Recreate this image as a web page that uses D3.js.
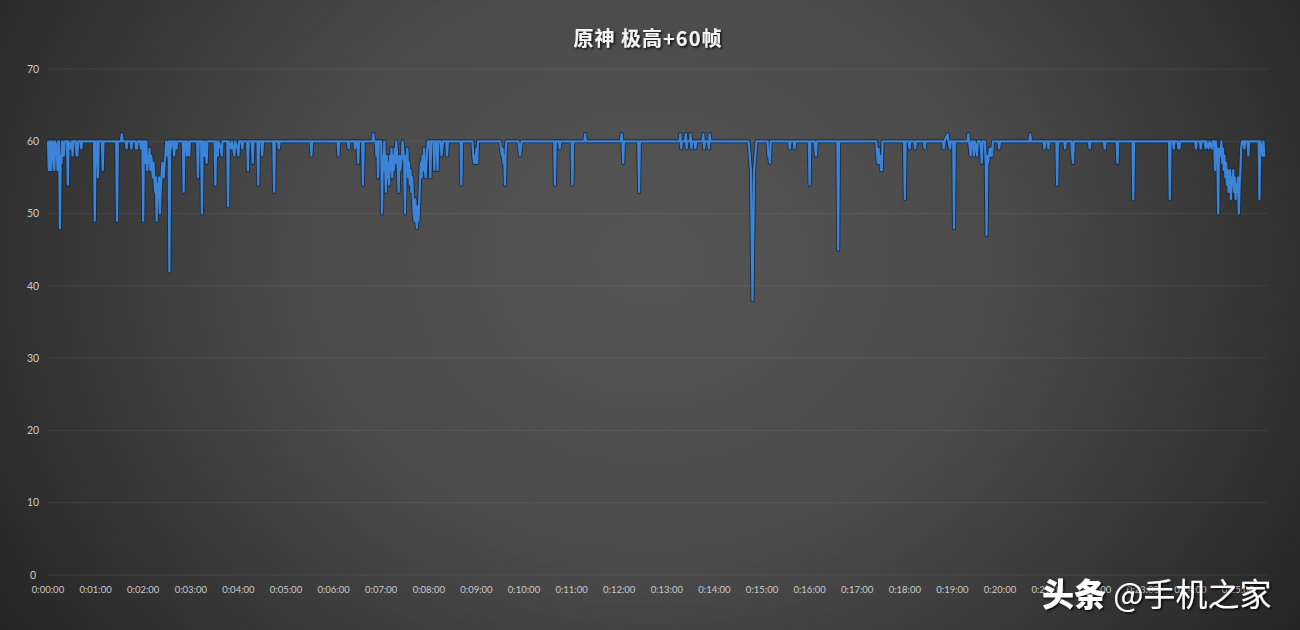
<!DOCTYPE html>
<html><head><meta charset="utf-8">
<script src="https://cdn.jsdelivr.net/npm/d3@7/dist/d3.min.js"></script>
<style>
html,body{margin:0;padding:0;background:#2a2a2a;}
svg{display:block;}
</style></head>
<body>
<svg id="chart" width="1300" height="630"></svg>
<script>
// ---- data (time in seconds, frame rate) ----
const title = "原神 极高+60帧";
const watermarkBold = "头条";
const watermarkRest = " @手机之家";
const yTicks = [0,10,20,30,40,50,60,70];
const xTickLabels = ["0:00:00","0:01:00","0:02:00","0:03:00","0:04:00","0:05:00","0:06:00","0:07:00","0:08:00","0:09:00","0:10:00","0:11:00","0:12:00","0:13:00","0:14:00","0:15:00","0:16:00","0:17:00","0:18:00","0:19:00","0:20:00","0:21:00","0:22:00","0:23:00","0:24:00","0:25:00"];
const xTickSec = [0,60,120,180,240,300,360,420,480,540,600,660,720,780,840,900,960,1020,1080,1140,1200,1260,1320,1380,1440,1500];
const totalSec = 1534;

const timeSec = [
0,1,2,3,4,5,6,8,9,11,12,13,14,15,16,17,18,20,21,24,25,26,28,30,31,32,35,36,37,38,41,42,43,
58,59,60,62,63,64,68,69,70,86,87,88,92,93,94,
98,99,100,104,105,106,110,111,112,113,116,117,118,119,120,121,
122,123,124,125,126,127,128,129,130,131,132,133,134,135,136,137,138,139,140,141,142,143,144,145,146,147,148,149,150,151,152,153,154,155,156,
158,159,160,162,163,170,171,172,174,175,176,178,179,188,189,190,193,194,195,197,198,200,201,
210,211,212,214,215,218,219,220,226,227,228,231,232,235,236,239,240,241,
244,245,246,251,252,253,257,258,259,264,265,266,269,270,271,284,285,286,290,291,292,
331,332,333,365,366,367,378,379,380,386,387,388,390,391,392,396,397,398,409,410,411,
413,414,415,416,417,420,421,422,423,424,426,427,428,429,430,431,432,
433,434,435,436,437,438,439,441,442,443,444,446,447,449,450,451,
452,453,454,455,456,457,458,459,460,461,462,463,464,465,466,467,468,469,
470,471,472,473,474,475,476,477,478,479,481,482,483,486,487,488,490,491,492,
495,496,497,498,502,503,504,520,521,522,535,536,537,538,539,540,541,542,
570,571,572,573,574,575,576,577,578,593,594,595,596,597,638,639,640,644,645,646,660,661,662,676,677,678,
722,723,724,725,726,744,745,746,
796,797,798,799,803,804,805,806,809,810,811,812,815,816,817,825,826,827,828,832,833,834,835,
883,886,888,890,893,907,908,909,910,911,934,935,936,940,941,942,959,960,961,966,967,968,969,995,996,997,
1044,1045,1046,1047,1048,1049,1050,1051,1052,1079,1080,1081,1085,1086,1087,1092,1093,1094,1104,1105,1106,
1128,1129,1130,1134,1135,1137,1138,1141,1142,1143,1159,1160,1161,1162,1163,1164,
1166,1167,1168,1170,1171,1172,1175,1176,1177,1178,1181,1182,1183,1184,1185,1186,1187,1188,1189,1190,1191,
1198,1199,1200,1237,1238,1239,1255,1256,1257,1260,1261,1262,1271,1272,1273,1281,1282,1283,1290,1291,1292,1293,
1312,1313,1314,1331,1332,1333,1347,1348,1349,1367,1368,1369,1413,1414,1415,
1418,1419,1420,1424,1425,1426,1427,1446,1447,1448,1452,1453,1454,1458,1459,1460,1463,1464,1467,1468,
1470,1471,1472,1474,1475,1476,1478,1479,
1480,1481,1482,1483,1484,1485,1486,1487,1488,1489,1490,1491,1492,1493,1494,1495,1496,1497,1498,1499,1500,1501,1502,1503,1504,1505,
1507,1508,1509,1512,1513,1514,1526,1527,1528,1530,1531,1532,1533,1534
];
const fps = [
60,56,60,60,56,59,60,56,60,59,56,60,60,48,58,57,60,58,60,60,54,60,59,60,58,60,60,58,58,60,60,59,60,
60,49,60,60,55,60,60,56,60,60,49,60,60,61,60,
60,59,60,60,59,60,60,59,59,60,60,59,60,60,49,60,
60,57,60,56,58,57,59,56,58,57,55,57,55,53,55,49,54,53,55,50,53,55,57,56,55,57,58,60,59,58,60,42,60,59,60,
60,58,60,59,60,60,53,60,60,58,60,58,60,60,55,60,60,50,60,58,60,57,60,
60,54,60,58,60,59,58,60,60,51,60,59,60,58,60,59,58,60,
60,59,60,60,56,60,60,57,60,60,54,60,60,58,60,60,53,60,60,59,60,
60,58,60,60,58,60,60,59,60,60,59,60,60,57,60,60,54,60,60,61,60,
60,58,60,55,60,60,50,58,56,60,53,58,55,57,54,58,56,
59,55,58,56,59,57,60,56,53,58,56,58,60,57,50,58,
56,59,55,57,54,56,53,55,52,50,49,52,49,48,51,49,52,55,
57,55,58,56,59,56,55,57,59,60,60,55,60,60,56,60,60,56,60,
60,58,59,60,60,58,60,60,54,60,60,58,57,58,57,59,57,60,
60,59,58,59,57,58,54,59,60,60,59,58,59,60,60,54,60,60,59,60,60,54,60,60,61,60,
60,61,60,57,60,60,53,60,
60,61,59,60,60,61,59,60,60,61,59,60,60,59,60,60,61,59,60,60,59,61,60,
60,56,38,56,60,60,58,58,57,60,60,59,60,60,59,60,60,54,60,60,59,58,60,60,45,60,
60,58,57,59,57,58,56,56,60,60,52,60,60,59,60,60,59,60,60,59,60,
60,59,60,61,60,59,60,60,48,60,60,61,60,59,58,60,
60,58,60,59,58,60,60,59,57,60,60,57,47,58,57,58,59,58,59,58,60,
60,59,60,60,61,60,60,59,60,60,59,60,60,54,60,60,59,60,60,58,57,60,
60,59,60,60,59,60,60,57,60,60,52,60,60,52,60,
60,59,60,60,59,59,60,60,59,60,60,59,60,60,59,60,59,60,59,60,
60,56,60,58,50,59,58,60,
57,59,56,58,55,57,54,56,53,55,56,52,55,54,56,53,55,52,54,53,55,50,54,56,59,60,
60,59,60,60,58,60,60,52,60,59,58,60,58,58
];

// ---- drawing ----
const W = 1300, H = 630;
const svg = d3.select("#chart");
const defs = svg.append("defs");
const grad = defs.append("radialGradient").attr("id","bg")
  .attr("gradientUnits","userSpaceOnUse").attr("cx",650).attr("cy",260).attr("r",800)
  .attr("gradientTransform","translate(650,260) scale(1,0.85) translate(-650,-260)");
grad.append("stop").attr("offset","0").attr("stop-color","#555555");
grad.append("stop").attr("offset","0.45").attr("stop-color","#4a4a4a");
grad.append("stop").attr("offset","1").attr("stop-color","#232323");
svg.append("rect").attr("width",W).attr("height",H).attr("fill","url(#bg)");

const shadow = defs.append("filter").attr("id","ts").attr("x","-20%").attr("y","-40%").attr("width","140%").attr("height","180%");
shadow.append("feDropShadow").attr("dx",1.5).attr("dy",1.5).attr("stdDeviation",1).attr("flood-color","#000").attr("flood-opacity",0.85);

const x = d3.scaleLinear().domain([0,totalSec]).range([48,1265]);
const y = d3.scaleLinear().domain([0,70]).range([575,69]);

// gridlines
svg.append("g").selectAll("line").data(yTicks).join("line")
  .attr("x1",48).attr("x2",1268)
  .attr("y1",d=>y(d)).attr("y2",d=>y(d))
  .attr("stroke","rgba(255,255,255,0.07)").attr("stroke-width",1);

// y labels
svg.append("g").selectAll("text").data(yTicks).join("text")
  .attr("x",33).attr("y",d=>y(d)).attr("dy","0.35em")
  .attr("text-anchor","middle")
  .attr("font-family","Lato, 'Open Sans', sans-serif").attr("font-size",10.5)
  .attr("fill","#c9c9c9").text(d=>d);

// x labels
svg.append("g").selectAll("text").data(xTickSec).join("text")
  .attr("x",d=>x(d)).attr("y",590).attr("dy","0.35em")
  .attr("text-anchor","middle")
  .attr("font-family","Lato, 'Open Sans', sans-serif").attr("font-size",9.5)
  .attr("fill","#c9c9c9").text((d,i)=>xTickLabels[i]);

// series
const pts = timeSec.map((t,i)=>[t,fps[i]]);
const line = d3.line().x(d=>x(d[0])).y(d=>y(d[1]));
svg.append("path").datum(pts).attr("d",line)
  .attr("fill","none").attr("stroke","#15243a").attr("stroke-opacity",0.85)
  .attr("stroke-width",4).attr("stroke-linejoin","round");
svg.append("path").datum(pts).attr("d",line)
  .attr("fill","none").attr("stroke","#3c84d8")
  .attr("stroke-width",2.2).attr("stroke-linejoin","round");

// title
svg.append("text").attr("x",648).attr("y",46).attr("text-anchor","middle")
  .attr("font-family","'Noto Sans CJK SC', sans-serif").attr("font-weight",700)
  .attr("font-size",20).attr("letter-spacing",1).attr("fill","#f4f4f4").attr("filter","url(#ts)")
  .text(title);

// watermark
const wm = svg.append("text").attr("x",1042).attr("y",606)
  .attr("font-family","'Noto Sans CJK SC', sans-serif").attr("font-size",32)
  .attr("fill","#ffffff").attr("filter","url(#ts)");
wm.append("tspan").attr("font-weight",900).text(watermarkBold);
wm.append("tspan").attr("font-weight",400).text(watermarkRest);
</script>
</body></html>
